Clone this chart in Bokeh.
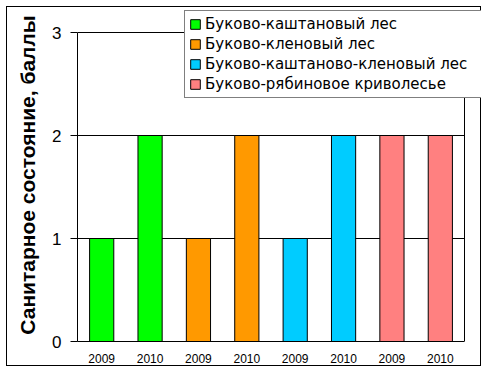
from bokeh.plotting import figure
from bokeh.models import FixedTicker, Legend, LegendItem, ColumnDataSource
from bokeh.embed import file_html
from bokeh.resources import INLINE

forests = ["Буково-каштановый лес", "Буково-кленовый лес",
           "Буково-каштаново-кленовый лес", "Буково-рябиновое криволесье"]
years = ["2009", "2010"]
values = [[1, 2], [1, 2], [1, 2], [2, 2]]
colors = ["#00FF00", "#FF9900", "#00CCFF", "#FF8080"]
y_ticks = [0, 1, 2, 3]

FONT = "Liberation Sans"

n_bars = sum(len(v) for v in values)
x_lo, x_hi = -0.5, n_bars - 0.5
y_max = y_ticks[-1]
# extra room at top/right of the frame so the legend can sit over the chart corner
y_top = y_max * 333 / 309
x_end = x_lo + n_bars * 404 / 387

p = figure(width=475, height=360, output_backend="svg", toolbar_location=None,
           x_range=(x_lo, x_end), y_range=(0, y_top),
           min_border_left=70, min_border_right=1, min_border_top=1, min_border_bottom=26)
p.title.visible = False
p.styles = {"border": "1px solid black", "margin": "6px 0px 0px 6px"}
p.outline_line_color = None
p.background_fill_color = "white"
p.border_fill_color = "white"

# plot-area gridlines and right border
grid_y = y_ticks[1:]
p.segment(x0=[x_lo] * len(grid_y), x1=[x_hi] * len(grid_y), y0=grid_y, y1=grid_y,
          line_color="black", line_width=1)
p.segment(x0=[x_hi], x1=[x_hi], y0=[0], y1=[y_max], line_color="black", line_width=1)

items = []
labels = {}
idx = 0
for name, vals, col in zip(forests, values, colors):
    xs = []
    for yr, v in zip(years, vals):
        xs.append(idx)
        labels[idx] = yr
        idx += 1
    src = ColumnDataSource(dict(x=xs, top=vals))
    r = p.vbar(x="x", top="top", width=0.5, bottom=0, source=src,
               fill_color=col, line_color="black", line_width=1)
    items.append(LegendItem(label=name, renderers=[r]))

p.xgrid.visible = False
p.ygrid.visible = False

p.xaxis.bounds = (x_lo, x_hi)
p.xaxis.ticker = FixedTicker(ticks=list(range(idx)))
p.xaxis.major_label_overrides = labels
p.xaxis.major_tick_out = 0
p.xaxis.major_tick_in = 0
p.xaxis.major_tick_line_color = None
p.xaxis.minor_tick_line_color = None
p.xaxis.axis_line_color = "black"
p.xaxis.major_label_text_font = FONT
p.xaxis.major_label_text_font_size = "12px"
p.xaxis.major_label_text_color = "black"
p.xaxis.major_label_standoff = 12

p.yaxis.bounds = (0, y_max)
p.yaxis.ticker = FixedTicker(ticks=y_ticks)
p.yaxis.minor_tick_line_color = None
p.yaxis.major_tick_out = 7
p.yaxis.major_tick_in = 0
p.yaxis.major_tick_line_color = "black"
p.yaxis.axis_line_color = "black"
p.yaxis.major_label_text_font = FONT
p.yaxis.major_label_text_font_size = "17px"
p.yaxis.major_label_text_color = "black"
p.yaxis.major_label_standoff = 9
p.yaxis.axis_label = "Санитарное состояние, баллы"
p.yaxis.axis_label_text_font = FONT
p.yaxis.axis_label_text_font_size = "21px"
p.yaxis.axis_label_text_font_style = "bold"
p.yaxis.axis_label_text_color = "black"
p.yaxis.axis_label_standoff = 10

legend = Legend(items=items, location=(107, 243))
legend.label_text_font = "DejaVu Sans"
legend.label_text_font_size = "15px"
legend.label_text_color = "black"
legend.glyph_width = 12
legend.glyph_height = 12
legend.label_height = 16
legend.label_width = 272
legend.label_standoff = 4
legend.spacing = 2
legend.padding = 4
legend.margin = 0
legend.border_line_color = "black"
legend.border_line_width = 1
legend.background_fill_color = "white"
legend.background_fill_alpha = 1
p.add_layout(legend, "center")

open("out.html", "w").write(file_html(p, INLINE))
